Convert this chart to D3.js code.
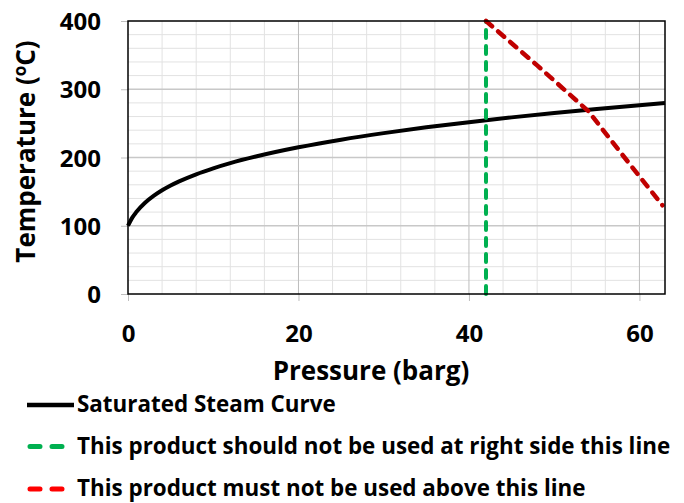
<!DOCTYPE html>
<html>
<head>
<meta charset="utf-8">
<script src="https://cdn.jsdelivr.net/npm/d3@7"></script>
<style>
  body { margin: 0; background: #fff; }
  svg text { font-family: "Open Sans", sans-serif; font-weight: 700; fill: #000; }
</style>
</head>
<body>
<div id="chart"></div>
<script>
// saturated steam curve (pressure barg -> temperature C)
const steamPressure = [0, 0.25, 0.5, 1, 2, 3, 4, 5, 6, 8, 10, 12, 15, 20, 25, 30, 35, 40, 45, 50, 55, 60, 63];
const steamTemp = [100, 106.3, 111.9, 120.4, 133.7, 143.7, 151.9, 158.9, 165, 175.4, 184.1, 191.7, 201.4, 214.9, 226.1, 235.7, 244.2, 251.8, 258.8, 265.2, 271.1, 276.7, 279.9];

// product limits
const pressureLimit = [42, 42];
const pressureLimitTemp = [0, 400];
const tempLimitPressure = [42, 48, 54, 58, 62.7];
const tempLimitTemp = [400, 335, 268, 204, 130];

const xTicks = [0, 20, 40, 60];
const yTicks = [0, 100, 200, 300, 400];

const legendLabels = [
  "Saturated Steam Curve",
  "This product should not be used at right side this line",
  "This product must not be used above this line"
];

const width = 684, height = 503;
const margin = { top: 21, right: 19, bottom: 209, left: 128 };
const w = width - margin.left - margin.right;
const h = height - margin.top - margin.bottom;

const svg = d3.select("#chart").append("svg")
  .attr("width", width)
  .attr("height", height);

const g = svg.append("g")
  .attr("transform", `translate(${margin.left},${margin.top})`);

const x = d3.scaleLinear().domain([0, 63]).range([0, w]);
const y = d3.scaleLinear().domain([0, 400]).range([h, 0]);

// minor grid
g.append("g").selectAll("line")
  .data(d3.range(4, 63, 4).filter(v => v % 20 !== 0))
  .enter().append("line")
  .attr("x1", d => x(d)).attr("x2", d => x(d))
  .attr("y1", 0).attr("y2", h)
  .attr("stroke", "#e2e2e2").attr("stroke-width", 1);

g.append("g").selectAll("line")
  .data(d3.range(20, 400, 20).filter(v => v % 100 !== 0))
  .enter().append("line")
  .attr("x1", 0).attr("x2", w)
  .attr("y1", d => y(d)).attr("y2", d => y(d))
  .attr("stroke", "#e2e2e2").attr("stroke-width", 1);

// major grid
g.append("g").selectAll("line")
  .data(xTicks.filter(v => v > 0))
  .enter().append("line")
  .attr("x1", d => x(d)).attr("x2", d => x(d))
  .attr("y1", 0).attr("y2", h)
  .attr("stroke", "#bdbdbd").attr("stroke-width", 1);

g.append("g").selectAll("line")
  .data(yTicks.filter(v => v > 0 && v < 400))
  .enter().append("line")
  .attr("x1", 0).attr("x2", w)
  .attr("y1", d => y(d)).attr("y2", d => y(d))
  .attr("stroke", "#c8c8c8").attr("stroke-width", 1.3);

// axes
const xAxis = g.append("g")
  .attr("transform", `translate(0,${h})`)
  .call(d3.axisBottom(x).tickValues(xTicks).tickSize(7));
const yAxis = g.append("g")
  .call(d3.axisLeft(y).tickValues(yTicks).tickSize(7));

[xAxis, yAxis].forEach(a => {
  a.select(".domain").remove();
  a.selectAll(".tick line").attr("stroke", "#bfbfbf");
  a.selectAll(".tick text").attr("font-size", 24).attr("font-family", "'Open Sans', sans-serif").attr("font-weight", 700);
});
xAxis.selectAll(".tick text").attr("y", 31).attr("dy", "0.71em");
yAxis.selectAll(".tick text").attr("x", -27).attr("dy", "0.36em");

// data lines
const line = d3.line().x(d => x(d[0])).y(d => y(d[1]));

g.append("path")
  .datum(steamPressure.map((p, i) => [p, steamTemp[i]]))
  .attr("d", line.curve(d3.curveMonotoneX))
  .attr("fill", "none").attr("stroke", "#000").attr("stroke-width", 4);

g.append("path")
  .datum(pressureLimit.map((p, i) => [p, pressureLimitTemp[i]]))
  .attr("d", d3.line().x(d => x(d[0])).y(d => y(d[1])))
  .attr("fill", "none").attr("stroke", "#00b050").attr("stroke-width", 4)
  .attr("stroke-dasharray", "8,8").attr("stroke-linecap", "round");

g.append("path")
  .datum(tempLimitPressure.map((p, i) => [p, tempLimitTemp[i]]))
  .attr("d", d3.line().x(d => x(d[0])).y(d => y(d[1])))
  .attr("fill", "none").attr("stroke", "#c00000").attr("stroke-width", 4.5)
  .attr("stroke-dasharray", "8,8").attr("stroke-linecap", "round");

// plot border
g.append("rect")
  .attr("x", 0).attr("y", 0).attr("width", w).attr("height", h)
  .attr("fill", "none").attr("stroke", "#000").attr("stroke-width", 1.5);

// axis titles
svg.append("text")
  .attr("x", 371).attr("y", 380)
  .attr("text-anchor", "middle").attr("font-size", 26)
  .text("Pressure (barg)");

const yTitle = svg.append("text")
  .attr("transform", `translate(35,${margin.top + h / 2 - 6}) rotate(-90)`)
  .attr("text-anchor", "middle").attr("font-size", 26);
yTitle.append("tspan").text("Temperature (");
yTitle.append("tspan").attr("font-size", 17).attr("dy", -9).text("o");
yTitle.append("tspan").attr("dy", 9).text("C)");

// legend
const legendItems = [
  { color: "#000", dash: null },
  { color: "#00b050", dash: "10,12" },
  { color: "#ff0000", dash: "10,12" }
];
const legendY = [405, 446.5, 489];

const legend = svg.append("g");
legendItems.forEach((item, i) => {
  const row = legend.append("g").attr("transform", `translate(0,${legendY[i]})`);
  if (item.dash) {
    row.append("line")
      .attr("x1", 30).attr("x2", 63).attr("y1", 0).attr("y2", 0)
      .attr("stroke", item.color).attr("stroke-width", 5)
      .attr("stroke-linecap", "round").attr("stroke-dasharray", item.dash);
  } else {
    row.append("line")
      .attr("x1", 27).attr("x2", 74).attr("y1", 0).attr("y2", 0)
      .attr("stroke", item.color).attr("stroke-width", 4.5);
  }
  row.append("text")
    .attr("x", 77).attr("y", 7)
    .attr("font-size", 22.4)
    .text(legendLabels[i]);
});
</script>
</body>
</html>
